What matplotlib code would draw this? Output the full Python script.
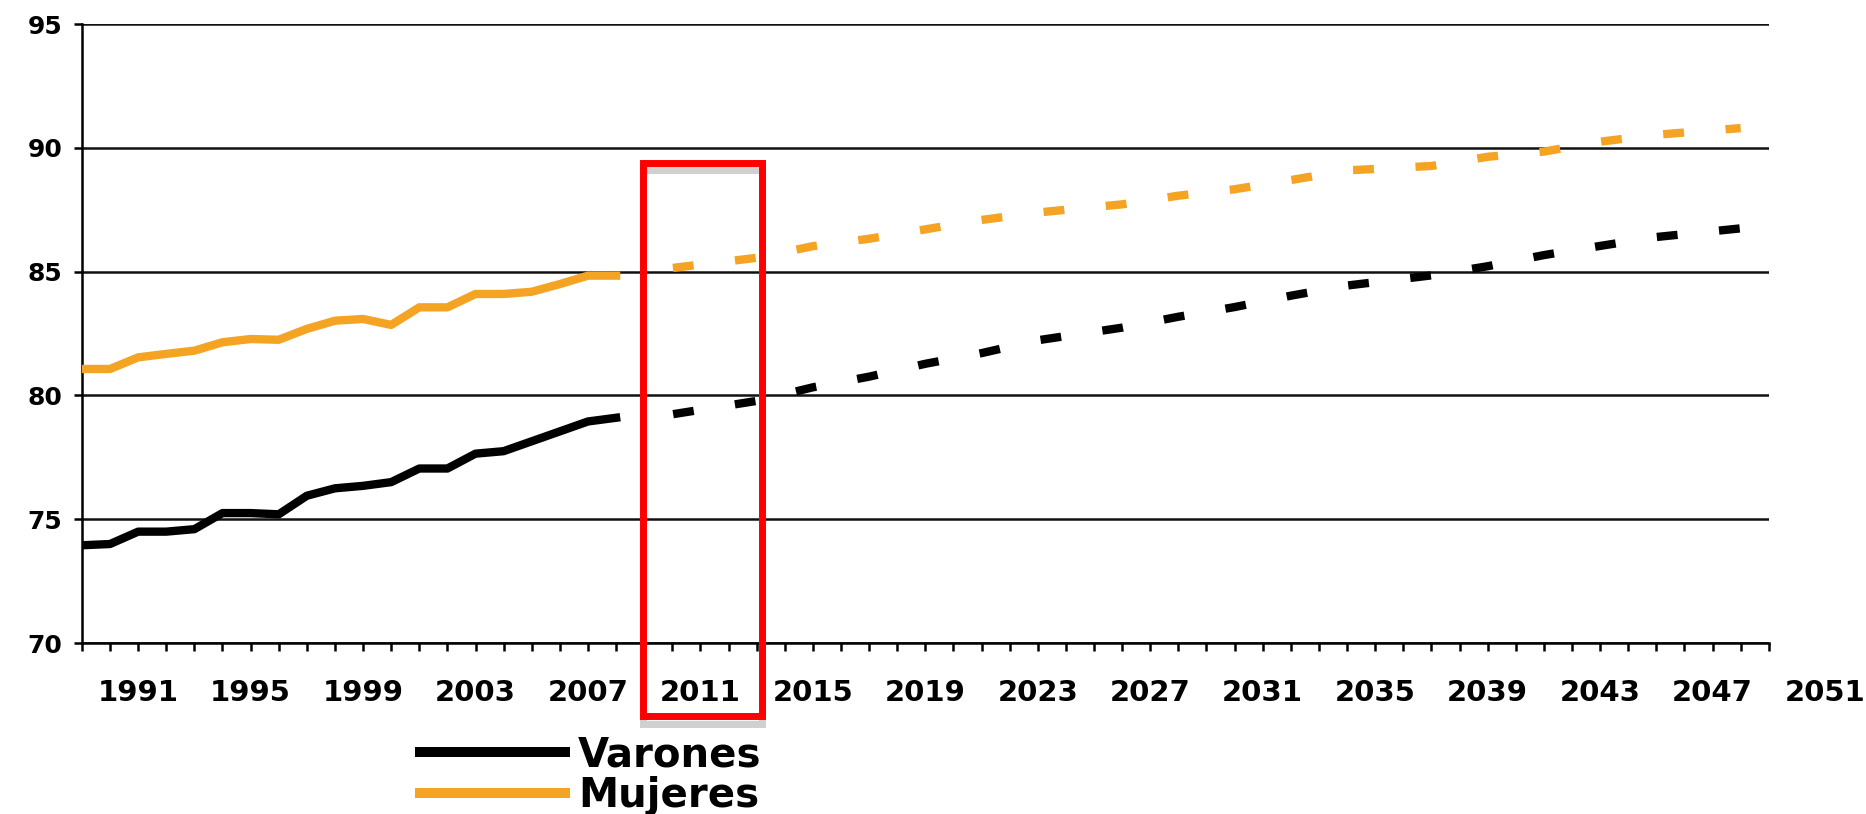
import matplotlib
matplotlib.use("Agg")
import matplotlib.pyplot as plt
from matplotlib.patches import Rectangle
from matplotlib.ticker import MultipleLocator
from matplotlib.transforms import blended_transform_factory

plt.rcParams['font.family'] = ['DejaVu Sans', 'Liberation Sans']
plt.rcParams['font.weight'] = 'bold'

# esperanza de vida observada
obs_years = list(range(1989, 2009))
varones_obs = [73.95, 74.0, 74.5, 74.5, 74.6, 75.25, 75.25, 75.2, 75.95, 76.25,
               76.35, 76.5, 77.05, 77.05, 77.65, 77.75, 78.15, 78.55, 78.95, 79.1]
mujeres_obs = [81.07, 81.07, 81.54, 81.68, 81.81, 82.15, 82.28, 82.25, 82.69, 83.02,
               83.09, 82.85, 83.56, 83.56, 84.1, 84.1, 84.19, 84.5, 84.84, 84.84]

# proyeccion
proj_years = [2009, 2010, 2013, 2015, 2017, 2019, 2021, 2023, 2026, 2028,
              2030, 2032, 2034, 2037, 2039, 2041, 2043, 2045, 2048]
varones_proj = [79.1, 79.24, 79.78, 80.33, 80.76, 81.28, 81.71, 82.23, 82.74, 83.18,
                83.57, 84.03, 84.44, 84.85, 85.22, 85.67, 86.04, 86.4, 86.75]
mujeres_proj = [84.95, 85.15, 85.56, 86.03, 86.33, 86.71, 87.09, 87.39, 87.72, 88.07,
                88.33, 88.7, 89.09, 89.27, 89.64, 89.85, 90.25, 90.53, 90.8]

x_labels = list(range(1991, 2052, 4))
y_ticks = [70, 75, 80, 85, 90, 95]

BLACK = '#000000'
ORANGE = '#F4A323'
LW = 6
dash = (4.0, (2.5, 5.0))

fig = plt.figure(figsize=(18.66, 8.14), dpi=100)
ax = fig.add_axes([0.0439, 0.21, 0.904, 0.7604])

lv, = ax.plot(obs_years, varones_obs, color=BLACK, lw=LW, label='Varones', zorder=3)
lm, = ax.plot(obs_years, mujeres_obs, color=ORANGE, lw=LW, label='Mujeres', zorder=3)
ax.plot(proj_years, varones_proj, color=BLACK, lw=LW, linestyle=dash, zorder=3)
ax.plot(proj_years, mujeres_proj, color=ORANGE, lw=LW, linestyle=dash, zorder=3)

ax.set_xlim(1989, 2049)
ax.set_ylim(70, 95)
ax.set_yticks(y_ticks)
ax.tick_params(axis='y', labelsize=18, length=6, width=1.8, pad=8, direction='out')
ax.set_xticks([])
ax.xaxis.set_minor_locator(MultipleLocator(1))
ax.tick_params(axis='x', which='minor', length=6, width=1.8, direction='out')

for s in ['top', 'right']:
    ax.spines[s].set_visible(False)
for s in ['left', 'bottom']:
    ax.spines[s].set_linewidth(1.8)
ax.yaxis.grid(True, color='#111111', lw=1.8)
ax.set_axisbelow(True)

# etiquetas del eje x (la ultima cae fuera del eje)
tr = blended_transform_factory(ax.transData, ax.transAxes)
for yr in x_labels:
    ax.text(yr, -0.081, str(yr), transform=tr, ha='center', va='center',
            fontsize=21, fontweight='bold', clip_on=False)

# recuadro rojo
ax.add_patch(Rectangle((2008.95, 66.75), 4.25, 22.34, fill=False, edgecolor='#d0d0d0',
                       lw=5, clip_on=False, zorder=4))
ax.add_patch(Rectangle((2008.95, 67.05), 4.25, 22.34, fill=False, edgecolor='#ff0000',
                       lw=5, clip_on=False, zorder=5))

leg = ax.legend(handles=[lv, lm], loc='upper left', bbox_to_anchor=(0.225, 0.097),
                bbox_transform=fig.transFigure, frameon=False,
                prop={'size': 29, 'weight': 'bold'},
                handlelength=3.6, handletextpad=0.33, labelspacing=0.02,
                borderpad=0, borderaxespad=0)
for h in leg.legend_handles:
    h.set_linewidth(7.2)

fig.savefig('out.png', dpi=100)
